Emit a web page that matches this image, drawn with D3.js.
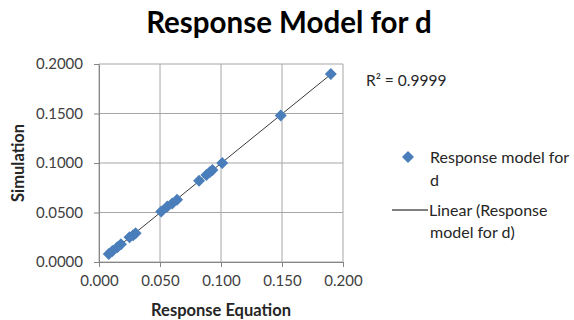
<!DOCTYPE html>
<html>
<head>
<meta charset="utf-8">
<script src="https://cdn.jsdelivr.net/npm/d3@7"></script>
<style>
  body { margin: 0; background: #fff; }
  text { font-family: Lato, "Open Sans", sans-serif; }
</style>
</head>
<body>
<div id="chart"></div>
<script>
// Data
const responseEquation = [0.008, 0.011, 0.015, 0.018, 0.025, 0.028, 0.030, 0.051, 0.056, 0.060, 0.064, 0.082, 0.088, 0.091, 0.093, 0.101, 0.149, 0.190];
const simulation =       [0.008, 0.011, 0.015, 0.018, 0.025, 0.027, 0.029, 0.051, 0.056, 0.059, 0.063, 0.082, 0.088, 0.091, 0.093, 0.100, 0.148, 0.190];
const xTicks = [0, 0.05, 0.1, 0.15, 0.2];
const yTicks = [0, 0.05, 0.1, 0.15, 0.2];
const rSquared = "R² = 0.9999";

const W = 574, H = 320;
const margin = { top: 64, right: 231, bottom: 58, left: 99 };
const width = W - margin.left - margin.right;
const height = H - margin.top - margin.bottom;

const svg = d3.select("#chart").append("svg")
  .attr("width", W).attr("height", H);

const g = svg.append("g")
  .attr("transform", `translate(${margin.left},${margin.top})`);

const x = d3.scaleLinear().domain([0, 0.2]).range([0, width]);
const y = d3.scaleLinear().domain([0, 0.2]).range([height, 0]);

// Gridlines
g.append("g").selectAll("line").data(xTicks).enter().append("line")
  .attr("x1", d => x(d)).attr("x2", d => x(d))
  .attr("y1", 0).attr("y2", height)
  .attr("stroke", "#a6a6a6");
g.append("g").selectAll("line").data(yTicks).enter().append("line")
  .attr("y1", d => y(d)).attr("y2", d => y(d))
  .attr("x1", 0).attr("x2", width)
  .attr("stroke", "#a6a6a6");

// Axes
const xAxis = g.append("g").attr("transform", `translate(0,${height})`)
  .call(d3.axisBottom(x).tickValues(xTicks).tickFormat(d3.format(".3f")).tickSize(5).tickSizeOuter(0));
const yAxis = g.append("g")
  .call(d3.axisLeft(y).tickValues(yTicks).tickFormat(d3.format(".4f")).tickSize(5).tickSizeOuter(0));
[xAxis, yAxis].forEach(a => {
  a.select(".domain").attr("stroke", "#868686");
  a.selectAll(".tick line").attr("stroke", "#868686");
  a.selectAll(".tick text").attr("fill", "#404040")
    .style("font-size", "15px").style("font-family", "Lato, 'Open Sans', sans-serif");
});
xAxis.selectAll(".tick text").attr("y", 13).attr("dy", "0.71em");
yAxis.selectAll(".tick text").attr("x", -16);

// Linear trendline (least squares over the points)
const n = responseEquation.length;
const mx = d3.mean(responseEquation), my = d3.mean(simulation);
let sxy = 0, sxx = 0;
for (let i = 0; i < n; i++) {
  sxy += (responseEquation[i] - mx) * (simulation[i] - my);
  sxx += (responseEquation[i] - mx) ** 2;
}
const slope = sxy / sxx, intercept = my - slope * mx;
const [x0, x1] = d3.extent(responseEquation);
g.append("line")
  .attr("x1", x(x0)).attr("y1", y(intercept + slope * x0))
  .attr("x2", x(x1)).attr("y2", y(intercept + slope * x1))
  .attr("stroke", "#3a3a3a").attr("stroke-width", 1);

// Points
const diamond = d3.symbol().type(d3.symbolSquare).size(72);
g.append("g").selectAll("path").data(responseEquation).enter().append("path")
  .attr("d", diamond)
  .attr("transform", (d, i) => `translate(${x(d)},${y(simulation[i])}) rotate(45)`)
  .attr("fill", "#4a7ebb");

// Title
svg.append("text").attr("x", 289).attr("y", 33)
  .attr("text-anchor", "middle")
  .style("font-size", "29.5px").style("font-weight", "bold")
  .text("Response Model for d");

// Axis titles
svg.append("text").attr("x", 221).attr("y", 316)
  .attr("text-anchor", "middle")
  .style("font-size", "16.5px").style("font-weight", "bold").attr("fill", "#262626")
  .text("Response Equation");
svg.append("text")
  .attr("transform", `translate(24,${margin.top + height / 2}) rotate(-90)`)
  .attr("text-anchor", "middle")
  .style("font-size", "16.5px").style("font-weight", "bold").attr("fill", "#262626")
  .text("Simulation");

// R squared
svg.append("text").attr("x", 366).attr("y", 86)
  .style("font-size", "15.5px").attr("fill", "#262626")
  .text(rSquared);

// Legend
const legend = svg.append("g");
legend.append("path").attr("d", diamond)
  .attr("transform", "translate(408,157) rotate(45)")
  .attr("fill", "#4a7ebb");
legend.append("text").attr("x", 430).attr("y", 163)
  .style("font-size", "16px").attr("fill", "#262626").text("Response model for");
legend.append("text").attr("x", 430).attr("y", 186)
  .style("font-size", "16px").attr("fill", "#262626").text("d");
legend.append("line").attr("x1", 392).attr("x2", 428).attr("y1", 210).attr("y2", 210)
  .attr("stroke", "#000").attr("stroke-width", 1);
legend.append("text").attr("x", 429).attr("y", 216)
  .style("font-size", "16px").attr("fill", "#262626").text("Linear (Response");
legend.append("text").attr("x", 430).attr("y", 238)
  .style("font-size", "16px").attr("fill", "#262626").text("model for d)");
</script>
</body>
</html>
